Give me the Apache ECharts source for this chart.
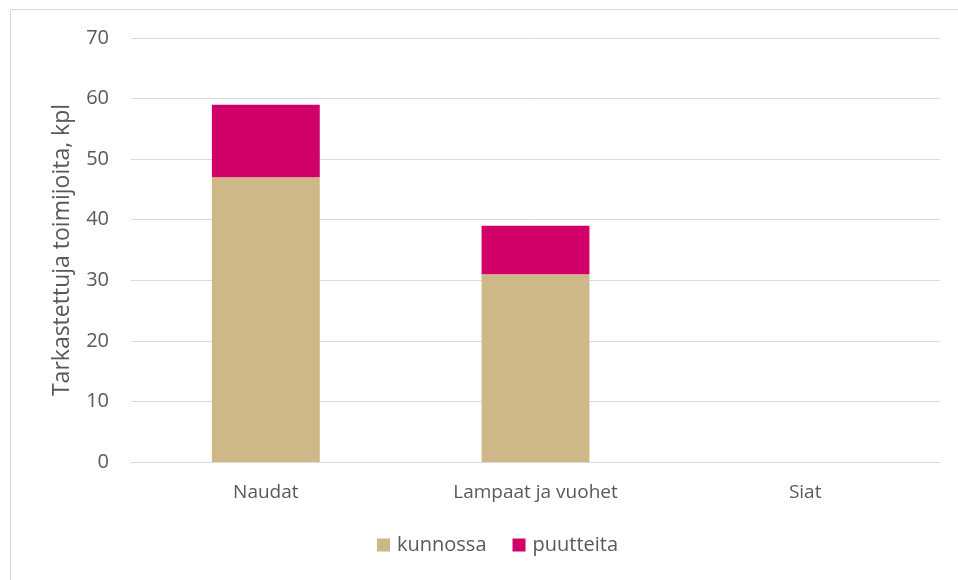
<!DOCTYPE html>
<html>
<head>
<meta charset="utf-8">
<script src="https://cdn.jsdelivr.net/npm/echarts@6/dist/echarts.min.js"></script>
<style>
  html, body { margin: 0; padding: 0; background: #fff; }
  #chart { width: 958px; height: 580px; }
</style>
</head>
<body>
<div id="chart"></div>
<script>
// data
var categories = ['Naudat', 'Lampaat ja vuohet', 'Siat'];
var kunnossa = [47, 31, 0];
var puutteita = [12, 8, 0];
var seriesNames = ['kunnossa', 'puutteita'];

var txt = '#595959';
var fontFam = '"Open Sans", "Noto Sans", sans-serif';

var chart = echarts.init(document.getElementById('chart'));
chart.setOption({
    backgroundColor: '#fff',
    animation: false,
    textStyle: { fontFamily: fontFam },
    graphic: [{
        type: 'rect',
        shape: { x: 10.5, y: 9.5, width: 960, height: 600 },
        style: { fill: 'none', stroke: '#d9d9d9', lineWidth: 1 },
        silent: true
    }],
    grid: { left: 131, right: 18, top: 38, bottom: 118 },
    legend: {
        bottom: 20,
        left: 372,
        itemWidth: 13,
        itemHeight: 13,
        itemGap: 26,
        icon: 'rect',
        textStyle: { color: txt, fontSize: 20, fontFamily: fontFam, padding: [0, 0, 0, 2] },
        data: seriesNames
    },
    xAxis: {
        type: 'category',
        data: categories,
        axisLine: { lineStyle: { color: '#d9d9d9', width: 1 } },
        axisTick: { show: false },
        axisLabel: { color: txt, fontSize: 19, margin: 21, fontFamily: fontFam }
    },
    yAxis: {
        type: 'value',
        min: 0,
        max: 70,
        interval: 10,
        name: 'Tarkastettuja toimijoita, kpl',
        nameLocation: 'middle',
        nameGap: 57,
        nameTextStyle: { color: txt, fontSize: 23, fontFamily: fontFam },
        axisLine: { show: false },
        axisTick: { show: false },
        axisLabel: { color: txt, fontSize: 20, margin: 22, fontFamily: fontFam },
        splitLine: { lineStyle: { color: '#d9d9d9', width: 1 } }
    },
    series: [
        {
            name: seriesNames[0],
            type: 'bar',
            stack: 'total',
            barWidth: '40%',
            itemStyle: { color: '#cfb887' },
            data: kunnossa
        },
        {
            name: seriesNames[1],
            type: 'bar',
            stack: 'total',
            barWidth: '40%',
            itemStyle: { color: '#d20069' },
            data: puutteita
        }
    ]
});
</script>
</body>
</html>
